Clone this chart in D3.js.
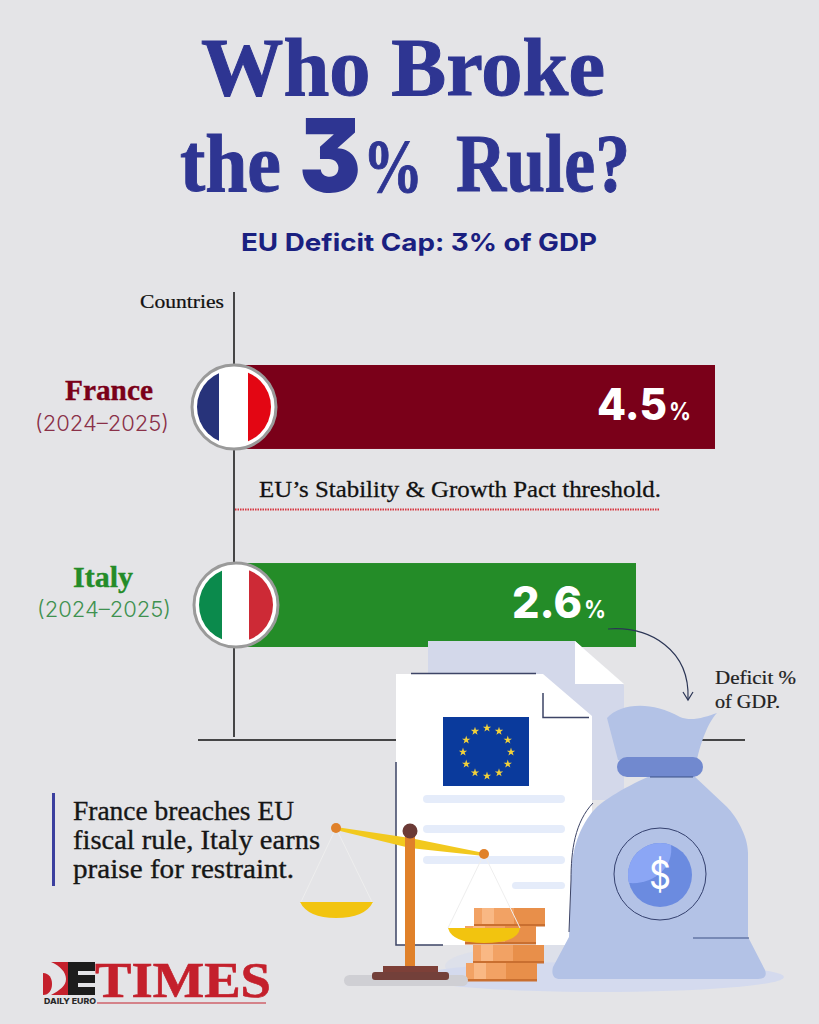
<!DOCTYPE html>
<html lang="en">
<head>
  <meta charset="UTF-8">
  <title>Who Broke the 3% Rule?</title>
  <style type="text/css" media="all">
    html, body { margin: 0; padding: 0; background: #e4e4e7; }
    svg { display: block; }
    text { font-feature-settings: "cv09" 1; }
  </style>
</head>
<body>
  <div id="graph"></div>
  <script src="https://cdn.jsdelivr.net/npm/d3@7"></script>
  <script>
    var countries = ['France', 'Italy'];
    var periods = ['(2024–2025)', '(2024–2025)'];
    var deficits = [4.5, 2.6];
    var valueLabels = ['4.5', '2.6'];
    var threshold = 3;
    var thresholdLabel = 'EU’s Stability & Growth Pact threshold.';
    var noteLines = ['France breaches EU', 'fiscal rule, Italy earns', 'praise for restraint.'];

    var serif = '"Liberation Serif", serif';
    var sans = 'Inter, "Open Sans", sans-serif';

    var svg = d3.select('#graph').append('svg')
      .attr('width', 819)
      .attr('height', 1024);

    svg.append('rect').attr('width', 819).attr('height', 1024).attr('fill', '#e4e4e7');

    // text squeezed to the width it has in the picture
    function label(x, y, str, size, width, fill, font, weight) {
      var t = svg.append('text')
        .attr('x', x)
        .attr('y', y)
        .attr('textLength', width)
        .attr('lengthAdjust', 'spacingAndGlyphs')
        .attr('font-family', font)
        .attr('font-size', size)
        .attr('font-weight', weight || 400)
        .attr('fill', fill)
        .text(str);
      // the reference serif is sturdier than Liberation, thicken it a little
      if (font === serif) {
        t.attr('stroke', fill).attr('stroke-width', size * 0.012);
      }
      return t;
    }

    function shape(d, fill) {
      return svg.append('path').attr('d', d).attr('fill', fill);
    }

    function stroke(d, color, w) {
      return svg.append('path').attr('d', d).attr('fill', 'none')
        .attr('stroke', color).attr('stroke-width', w);
    }

    function box(x, y, w, h, fill, r) {
      return svg.append('rect').attr('x', x).attr('y', y).attr('width', w).attr('height', h)
        .attr('rx', r || 0).attr('fill', fill);
    }

    /* title */
    var navy = '#2e3592';
    label(201, 95, 'Who Broke', 83, 404, navy, serif, 700);
    label(180, 191, 'the', 83, 101, navy, serif, 700);
    label(299, 192, '3', 102, 62, navy, sans, 900);
    label(363, 192, '%', 76, 60, navy, serif, 700);
    label(456, 191, 'Rule?', 83, 174, navy, serif, 700);
    label(241, 251, 'EU Deficit Cap: 3% of GDP', 24, 356, '#1a2080', sans, 700);

    /* chart. the bars in the picture are not to one scale, so the scale has a knot per value */
    var x = d3.scaleLinear()
      .domain([0, 2.6, 3, 4.5])
      .range([235, 636, 660, 715]);

    var y = d3.scaleBand()
      .domain(countries)
      .range([365, 647])
      .paddingInner(0.576)
      .paddingOuter(0);

    var barColors = d3.scaleOrdinal().domain(countries).range(['#7a0019', '#248c28']);
    var periodColors = d3.scaleOrdinal().domain(countries).range(['#8a3048', '#3f9150']);

    svg.append('line').attr('x1', 234).attr('x2', 234).attr('y1', 292).attr('y2', 737)
      .attr('stroke', '#111').attr('stroke-width', 1.5);
    svg.append('line').attr('x1', 198).attr('x2', 745).attr('y1', 740).attr('y2', 740)
      .attr('stroke', '#111').attr('stroke-width', 1.5);
    label(140, 308, 'Countries', 19, 84, '#111', serif);

    svg.selectAll('rect.bar')
      .data(countries)
      .enter().append('rect')
      .attr('class', 'bar')
      .attr('x', x(0))
      .attr('y', function(d) { return y(d); })
      .attr('width', function(d, i) { return x(deficits[i]) - x(0); })
      .attr('height', y.bandwidth())
      .attr('fill', function(d) { return barColors(d); });

    svg.append('line')
      .attr('x1', x(0)).attr('x2', x(threshold)).attr('y1', 509.5).attr('y2', 509.5)
      .attr('stroke', '#d8343f').attr('stroke-width', 2).attr('stroke-dasharray', '1.5 1');
    label(259, 497, thresholdLabel, 23, 402, '#111', serif);

    /* row labels */
    label(65, 400, countries[0], 29, 88, barColors('France'), serif, 700);
    label(35, 431, periods[0], 22, 134, periodColors('France'), sans, 300);
    label(73, 587, countries[1], 29, 60, barColors('Italy'), serif, 700);
    label(37, 617, periods[1], 22, 134, periodColors('Italy'), sans, 300);

    /* value labels, right aligned inside the bars */
    var labelInset = { France: 24, Italy: 30 };
    countries.forEach(function(c, i) {
      var end = x(deficits[i]) - labelInset[c];
      var base = y(c) + y.bandwidth() / 2 + 13;
      label(end - 94, base, valueLabels[i], 44, 70, '#fff', sans, 800);
      label(end - 22, base, '%', 24, 22, '#fff', sans, 700);
    });

    /* flags */
    function flag(id, cx, cy, stripes) {
      svg.append('clipPath').attr('id', id).append('circle')
        .attr('cx', cx).attr('cy', cy).attr('r', 37);
      svg.append('circle').attr('cx', cx).attr('cy', cy).attr('r', 42)
        .attr('fill', '#fff').attr('stroke', '#9a9a9a').attr('stroke-width', 3);
      var g = svg.append('g').attr('clip-path', 'url(#' + id + ')');
      g.selectAll('rect').data(stripes).enter().append('rect')
        .attr('x', function(d) { return d[0]; })
        .attr('width', function(d) { return d[1] - d[0]; })
        .attr('y', cy - 40).attr('height', 80)
        .attr('fill', function(d) { return d[2]; });
    }
    flag('fr', 234, 407, [[197, 219, '#27337a'], [248, 272, '#e30613']]);
    flag('it', 236, 605, [[199, 222, '#0b8a4c'], [249, 273, '#cd2a36']]);

    /* illustration: documents */
    svg.append('ellipse').attr('cx', 560).attr('cy', 966).attr('rx', 115).attr('ry', 22).attr('fill', '#dde0ea');
    svg.append('ellipse').attr('cx', 600).attr('cy', 977).attr('rx', 184).attr('ry', 15).attr('fill', '#d4daee');
    shape('M428,641H575L624,685V800H428Z', '#d3d8ea');
    shape('M575,641L624,684H575Z', '#fff');
    shape('M396,674H543L592,716V945H396Z', '#fff');
    stroke('M411,673.5H536', '#3d4466', 1.5);
    stroke('M543,693V717.5H589', '#3d4466', 1.5);
    stroke('M396,762V945H443', '#3d4466', 1.5);
    box(443, 717, 86, 69, '#0a3a9c');
    var star = d3.symbol().type(d3.symbolStar).size(22);
    d3.range(12).forEach(function(i) {
      var a = i * Math.PI / 6;
      svg.append('path').attr('d', star)
        .attr('transform', 'translate(' + (487 + 24 * Math.sin(a)) + ',' + (752 - 24 * Math.cos(a)) + ')')
        .attr('fill', '#f2d13a');
    });
    box(423, 795, 142, 8, '#e5ecfa', 4);
    box(423, 825, 142, 8, '#e5ecfa', 4);
    box(423, 856, 142, 8, '#e5ecfa', 4);
    box(512, 882, 53, 7, '#e5ecfa', 3.5);

    /* coins */
    [[474, 908], [465, 926], [473, 945], [466, 963]].forEach(function(c) {
      box(c[0], c[1], 71, 18, '#e88f4a');
      box(c[0], c[1], 40, 16, '#f2a264');
      box(c[0] + 8, c[1], 12, 16, '#f9b884');
      box(c[0], c[1] + 16, 71, 2.5, '#c96f30');
    });

    /* scale */
    box(344, 975, 124, 11, '#cfcfd4', 5.5);
    stroke('M336,828L300,904M336,828L373,904', '#eeeeee', 1);
    stroke('M484,854L448,928M484,854L520,928', '#eeeeee', 1);
    shape('M300,902H373Q365,918 336,918Q308,918 300,902Z', '#f2c40f');
    shape('M336,827L410,838L484,853V856L410,848L336,830Z', '#f2c91e');
    box(405, 831, 10, 138, '#e0812a');
    svg.append('circle').attr('cx', 336).attr('cy', 828).attr('r', 5).attr('fill', '#e0812a');
    svg.append('circle').attr('cx', 484).attr('cy', 854).attr('r', 5).attr('fill', '#e0812a');
    svg.append('circle').attr('cx', 410).attr('cy', 831).attr('r', 7.5).attr('fill', '#6b3a36');
    box(383, 966, 55, 6, '#7d4038');
    box(372, 972, 77, 8, '#73403a', 3);
    shape('M448,928H520Q518,943 484,943Q452,943 448,928Z', '#f2c40f');

    /* money bag */
    shape('M607,718C620,704 650,700 680,717C692,722 705,717 717,713C708,722 700,745 697,760H618Z', '#b3c2e6');
    shape('M652,775C630,785 600,800 590,815C575,835 571,860 571,880L569,937L553,967C551,975 554,979 560,979H758C765,979 767,975 765,970L748,937V853C748,835 735,815 727,807L693,775Z', '#b3c2e6');
    box(617, 757, 86, 20, '#7189cf', 10);
    stroke('M593,803C575,822 571,850 571,880L569,932', '#3d4466', 1);
    stroke('M693,938H749', '#3d5085', 1);
    stroke('M650,777H693', '#3d5085', 1);
    svg.append('circle').attr('cx', 660).attr('cy', 874).attr('r', 46)
      .attr('fill', 'none').attr('stroke', '#34406e').attr('stroke-width', 1);
    svg.append('circle').attr('cx', 660).attr('cy', 875).attr('r', 32).attr('fill', '#6b8be0');
    shape('M629,883A32,32 0 0 1 671,845C674,866 655,885 629,883Z', '#8ba6f5');
    label(649, 889, '$', 40, 22, '#fff', sans, 400);

    /* callout arrow */
    stroke('M608,629C650,626 690,650 688,699', '#2b3555', 1.2);
    stroke('M683,692L688,700L693,692', '#2b3555', 1.2);
    label(715, 684, 'Deficit %', 19, 81, '#222', serif);
    label(715, 708, 'of GDP.', 19, 65, '#222', serif);

    /* note */
    box(52, 793, 3, 93, '#3b3f9f');
    noteLines.forEach(function(line, i) {
      label(73, 820 + i * 29, line, 27, [221, 247, 221][i], '#161616', serif);
    });

    /* logo */
    var logoRed = '#c4202c';
    shape('M43,973C49,973 52,978 52,984C52,990 49,995 43,995Z', logoRed);
    shape('M51,962H68V995H51C60,990 66,986 66,979C66,972 60,966 51,962Z', logoRed);
    box(68, 962, 27, 33, '#1c1c1c');
    box(78, 971, 17, 4, '#e4e4e7');
    box(78, 983, 17, 4, '#e4e4e7');
    label(95, 997, 'TIMES', 50, 176, logoRed, serif, 700);
    label(44, 1004, 'DAILY EURO', 8, 52, '#2a2a2a', sans, 800);
    svg.append('line').attr('x1', 97).attr('x2', 266).attr('y1', 1003).attr('y2', 1003)
      .attr('stroke', logoRed).attr('stroke-width', 1);
  </script>
</body>
</html>
